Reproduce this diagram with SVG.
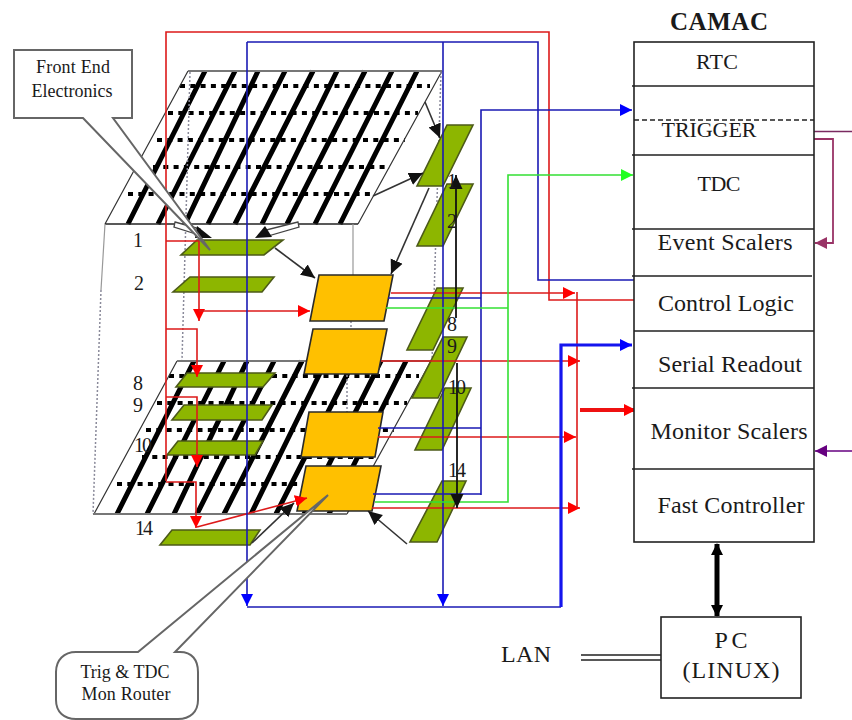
<svg xmlns="http://www.w3.org/2000/svg" width="852" height="720" viewBox="0 0 852 720">
<style>
text{font-family:"Liberation Serif","Times New Roman",serif;fill:#1a1a1a;font-size:24px}
.c{text-anchor:middle}
.caps{font-size:22px}
.head{font-size:25px;font-weight:bold}
.callout{font-size:18px}
.num{font-size:20px}
.stripe{stroke:#000;stroke-width:5;fill:none}
.dots{stroke:#000;stroke-width:4;stroke-dasharray:5 5.3;fill:none}
.edge{stroke:#333;stroke-width:1.2;fill:none}
.rim{stroke:#777;stroke-width:2;fill:none}
.base{stroke:#222;stroke-width:1.6;fill:none}
.wire{stroke:#999;stroke-width:1.2;fill:none}
.wired{stroke:#8a8a9a;stroke-width:1.5;stroke-dasharray:2 2;fill:none}
.fe{fill:#8db600;stroke:#4c5a18;stroke-width:1.6}
.or{fill:#ffc000;stroke:#2a2a2a;stroke-width:1.6}
.r{stroke:#dd1a1a;stroke-width:1.6;fill:none}
.b{stroke:#1a1ab4;stroke-width:1.6;fill:none}
.g{stroke:#33e033;stroke-width:1.6;fill:none}
.k{stroke:#333;stroke-width:1.6;fill:none}
.cell{stroke:#222;stroke-width:1.4;fill:none}
.box{stroke:#222;stroke-width:1.6;fill:#fff}
.co{fill:#fff;stroke:#666;stroke-width:2}
</style>
<defs>
<marker id="aR" markerUnits="userSpaceOnUse" markerWidth="13" markerHeight="13" refX="12" refY="6.500" orient="auto"><path d="M0 .5L12 6.500L0 12.500Z" fill="#f00"/></marker>
<marker id="aB" markerUnits="userSpaceOnUse" markerWidth="13" markerHeight="13" refX="12" refY="6.500" orient="auto"><path d="M0 .5L12 6.500L0 12.500Z" fill="#00f"/></marker>
<marker id="aG" markerUnits="userSpaceOnUse" markerWidth="13" markerHeight="13" refX="12" refY="6.500" orient="auto"><path d="M0 .5L12 6.500L0 12.500Z" fill="#2f2"/></marker>
<marker id="aK" markerUnits="userSpaceOnUse" markerWidth="15" markerHeight="14" refX="14" refY="7" orient="auto"><path d="M0 .5L14 7L0 13.500Z" fill="#111"/></marker>
<marker id="aP" markerUnits="userSpaceOnUse" markerWidth="13" markerHeight="13" refX="12" refY="6.500" orient="auto"><path d="M0 .5L12 6.500L0 12.500Z" fill="#993366"/></marker>
<marker id="aV" markerUnits="userSpaceOnUse" markerWidth="13" markerHeight="13" refX="12" refY="6.500" orient="auto"><path d="M0 .5L12 6.500L0 12.500Z" fill="#660080"/></marker>
<g id="grid">
<path class="stripe" d="M205 71L128 224M235 71L158 224M258 71L185 224M285 71L208 224M313 71L235 224M337 71L262 224M365 71L287 224M392 71L315 224M417 71L340 224"/>
<path class="dots" d="M180 86H430M168 113H418M157 140H405M153 167H390M128 194H375"/>
<path class="edge" d="M188 71L105 224M442 71L358 224"/>
<path class="rim" d="M188 71H442"/>
</g>
</defs>

<g id="upper-plane"><use href="#grid"/><path class="base" d="M105 224H358"/></g>
<g id="lower-plane"><use href="#grid" transform="translate(-11 290)"/><path class="rim" d="M93 514H347"/></g>
<g id="frame">
<path class="wire" d="M105 224L101 290M353 224V275"/>
<path class="wired" d="M101 290L93 514M190 72L182 360M441 72L432 361M351 321V330M347 375V420"/>
</g>

<g id="fe-1"><polygon class="fe" points="197,240 283,240 264,255 181,255"/></g>
<g id="fe-2"><polygon class="fe" points="190,277 274,277 262,292 173,292"/></g>
<g id="fe-8"><polygon class="fe" points="187,373 275,373 263,387 176,387"/></g>
<g id="fe-9"><polygon class="fe" points="184,405 272,405 262,420 172,420"/></g>
<g id="fe-10"><polygon class="fe" points="178,441 263,441 255,455 167,455"/></g>
<g id="fe-14"><polygon class="fe" points="172,530 260,530 250,545 160,545"/></g>
<g id="fe-r1"><polygon class="fe" points="447,125 473,125 443,186 417,186"/></g>
<g id="fe-r2"><polygon class="fe" points="447,184 473,184 443,246 417,246"/></g>
<g id="fe-r8"><polygon class="fe" points="437,288 463,288 433,350 407,350"/></g>
<g id="fe-r9"><polygon class="fe" points="443,337 467,337 438,398 412,398"/></g>
<g id="fe-r10"><polygon class="fe" points="445,388 471,388 442,450 415,450"/></g>
<g id="fe-r14"><polygon class="fe" points="442,481 466,481 437,542 410,542"/></g>

<g id="router-1"><polygon class="or" points="319,275 393,275 384,321 310,321"/></g>
<g id="router-2"><polygon class="or" points="313,329 387,329 378,374 304,374"/></g>
<g id="router-3"><polygon class="or" points="309,412 383,412 375,457 301,457"/></g>
<g id="router-4"><polygon class="or" points="306,466 381,466 372,511 297,511"/></g>

<g id="connectors">
<path class="r" d="M166 481V32H549V300H634"/>
<path class="r" d="M166 241H199V321" marker-end="url(#aR)"/>
<path class="r" d="M166 329H197V377" marker-end="url(#aR)"/>
<path class="r" d="M166 397H197V467" marker-end="url(#aR)"/>
<path class="r" d="M166 482H196V528" marker-end="url(#aR)"/>
<path class="r" d="M199 311H310" marker-end="url(#aR)"/>
<path class="r" d="M197 527L307 498" marker-end="url(#aR)"/>
<path class="r" d="M391 293H575" marker-end="url(#aR)"/>
<path class="r" d="M381 361H580" marker-end="url(#aR)"/>
<path class="r" d="M378 437H576" marker-end="url(#aR)"/>
<path class="r" d="M372 508H580" marker-end="url(#aR)"/>
<path class="r" d="M577 292V508"/>
<path d="M580 410H636" stroke="#ee1111" stroke-width="4" fill="none" marker-end="url(#aR)"/>
<path class="b" d="M247 42V606" marker-end="url(#aB)"/>
<path class="b" d="M443 42V606" marker-end="url(#aB)"/>
<path class="b" d="M247 42H538V280H634"/>
<path class="b" d="M247 607H561"/>
<path d="M561 607V345H632" stroke="#1515ee" stroke-width="3.200" fill="none" marker-end="url(#aB)"/>
<path class="b" d="M481 495V110H632" marker-end="url(#aB)"/>
<path class="b" d="M388 298H481M378 428H481M373 494H481"/>
<path class="g" d="M375 502H508V175H633" marker-end="url(#aG)"/>
<path class="g" d="M386 308H508"/>
<path class="k" d="M425 102L440 138" marker-end="url(#aK)"/>
<path class="k" d="M373 196L423 173" marker-end="url(#aK)"/>
<path class="k" d="M429 188L391 274" marker-end="url(#aK)"/>
<path class="k" d="M275 248L315 278" marker-end="url(#aK)"/>
<path class="k" d="M407 544L368 511" marker-end="url(#aK)"/>
<path class="k" d="M252 543L294 503" marker-end="url(#aK)"/>
<path d="M456 318V175" stroke="#111" stroke-width="1.800" fill="none" marker-end="url(#aK)"/>
<path d="M457 363V508" stroke="#111" stroke-width="1.800" fill="none" marker-end="url(#aK)"/>
<path d="M814 131.500H852" stroke="#7a2a60" stroke-width="1.600" fill="none"/>
<path d="M814 139H833V243H815" stroke="#993366" stroke-width="1.800" fill="none" marker-end="url(#aP)"/>
<path d="M852 451H815" stroke="#660080" stroke-width="1.600" fill="none" marker-end="url(#aV)"/>
<path d="M717 544V616" stroke="#000" stroke-width="5" fill="none"/>
<path d="M717 543L711 555H723ZM717 617L711 605H723Z" fill="#000"/>
<path d="M581 655H661M581 660H661" stroke="#222" stroke-width="1.400" fill="none"/>
</g>

<g id="feed-arrows">
<polygon points="175,222 200,229 199,235 174,227" fill="#fff" stroke="#444" stroke-width="1.300"/>
<polygon points="197,226 212,238 195,238" fill="#111"/>
<polygon points="298,222 266,230 268,236 299,227" fill="#fff" stroke="#444" stroke-width="1.300"/>
<polygon points="265,226 255,238 272,237" fill="#111"/>
</g>

<g id="callout-fe">
<path class="co" d="M14 50H132V118H113L210 250L83 118H14Z"/>
<text class="c callout" x="73" y="73" textLength="74">Front End</text>
<text class="c callout" x="72" y="97" textLength="81">Electronics</text>
</g>
<g id="callout-router">
<path class="co" d="M76 652H138L328 495L175 652H180C192 652 198 660 198 672V700C198 712 190 719 178 719H76C64 719 56 712 56 700V672C56 660 64 652 76 652Z"/>
<text class="c callout" x="125" y="678" textLength="89">Trig &amp; TDC</text>
<text class="c callout" x="126" y="700" textLength="89">Mon Router</text>
</g>

<g id="numbers">
<text class="num c" x="138" y="247">1</text>
<text class="num c" x="139" y="290">2</text>
<text class="num c" x="138" y="390">8</text>
<text class="num c" x="138" y="412">9</text>
<text class="num c" x="143" y="452" textLength="18">10</text>
<text class="num c" x="144" y="535" textLength="18">14</text>
<text class="num c" x="452" y="188">1</text>
<text class="num c" x="452" y="228">2</text>
<text class="num c" x="452" y="331">8</text>
<text class="num c" x="452" y="353">9</text>
<text class="num c" x="457" y="394" textLength="18">10</text>
<text class="num c" x="457" y="477" textLength="18">14</text>
</g>

<g id="camac">
<text x="719" y="30" class="c head" textLength="98">CAMAC</text>
<rect class="box" x="634" y="42" width="180" height="500"/>
<path class="cell" d="M632 86H814M632 155H814M632 229H814M632 276H812M634 331H814M632 388H814M632 469H814"/>
<path class="cell" d="M634 120H814" stroke-dasharray="5 3"/>
<text class="c caps" x="717" y="69" textLength="42">RTC</text>
<text class="c caps" x="709" y="137" textLength="95">TRIGGER</text>
<text class="c caps" x="719" y="191" textLength="43">TDC</text>
<text class="c" x="725" y="250" textLength="135">Event Scalers</text>
<text class="c" x="726" y="311" textLength="136">Control Logic</text>
<text class="c" x="730" y="372" textLength="144">Serial Readout</text>
<text class="c" x="729" y="439" textLength="157">Monitor Scalers</text>
<text class="c" x="731" y="513" textLength="147">Fast Controller</text>
</g>
<g id="pc">
<rect class="box" x="661" y="617" width="140" height="81"/>
<text class="c" x="731" y="648" textLength="33">PC</text>
<text class="c" x="731" y="678" textLength="97">(LINUX)</text>
</g>
<g id="lan"><text x="501" y="662" textLength="50">LAN</text></g>
</svg>
